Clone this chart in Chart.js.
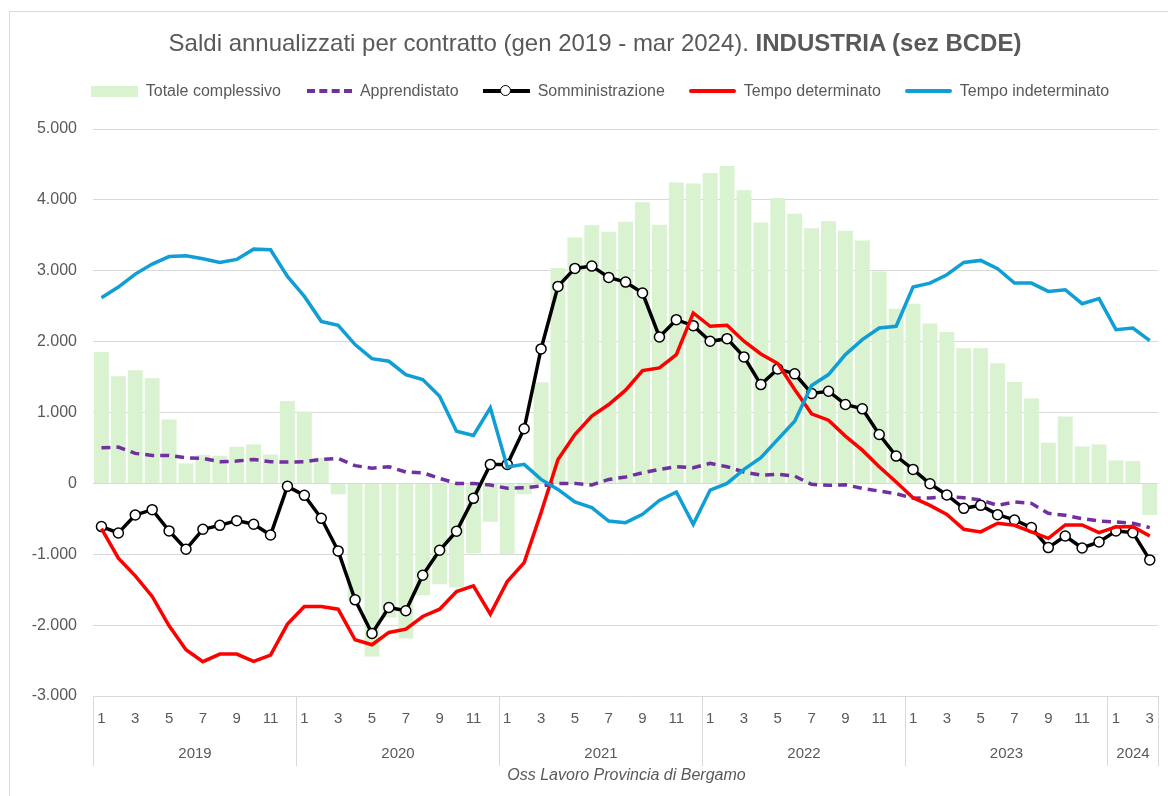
<!DOCTYPE html>
<html>
<head>
<meta charset="utf-8">
<script src="https://cdn.jsdelivr.net/npm/chart.js@4.4.1/dist/chart.umd.min.js"></script>
<style>
  body { margin: 0; background: #fff; }
  #wrap { position: relative; width: 1168px; height: 796px; overflow: hidden; }
  #frame { position: absolute; left: 9px; top: 11px; width: 1200px; height: 900px; border: 1px solid #d9d9d9; box-sizing: border-box; }
  canvas { position: absolute; left: 0; top: 0; }
  .narrow { font-family: "Liberation Sans Narrow", "Arial Narrow", "Liberation Sans", sans-serif; color: #595959; }
  #title { position: absolute; left: 0; top: 29px; width: 1190px; text-align: center; font-size: 24px; white-space: nowrap; }
  #legend { position: absolute; left: 0; top: 81px; width: 1200px; display: flex; justify-content: center; font-size: 16px; white-space: nowrap; }
  .item { display: flex; align-items: center; margin: 0 12px; }
  .sw { width: 47px; height: 20px; margin-right: 8px; position: relative; }
  #caption { position: absolute; left: 93px; width: 1067px; top: 766px; text-align: center; font-size: 16px; font-style: italic; }
</style>
</head>
<body>
<div id="wrap">
  <div id="frame"></div>
  <canvas id="chart" width="1168" height="796"></canvas>
  <div id="title" class="narrow">Saldi annualizzati per contratto (gen 2019 - mar 2024). <b>INDUSTRIA (sez BCDE)</b></div>
  <div id="legend" class="narrow"></div>
  <div id="caption" class="narrow">Oss Lavoro Provincia di Bergamo</div>
</div>
<script>
// asse X: anni e numero di mesi per anno
const years = ['2019', '2020', '2021', '2022', '2023', '2024'];
const monthsPerYear = [12, 12, 12, 12, 12, 3];

const totale = [
  1855, 1512, 1596, 1484, 901, 282, 400, 390, 515, 549, 408, 1164,
  1014, 362, -155, -1650, -2441, -1892, -2188, -1577, -1423, -1469, -986, -540,
  -1000, -155, 1427, 3038, 3469, 3643, 3549, 3690, 3967, 3648, 4244, 4230,
  4380, 4479, 4136, 3681, 4028, 3803, 3601, 3700, 3563, 3427, 2991, 2465,
  2535, 2254, 2136, 1906, 1906, 1695, 1432, 1197, 573, 944, 521, 549,
  324, 315, -446
];
const apprendistato = [
  502, 512, 423, 394, 394, 362, 352, 305, 315, 338, 305, 300,
  305, 338, 350, 250, 215, 235, 160, 150, 70, 0, 0, -23,
  -70, -63, -38, 0, 0, -23, 56, 89, 150, 197, 235, 221,
  282, 235, 160, 117, 127, 103, -14, -28, -20, -70, -108, -146,
  -210, -205, -190, -202, -235, -310, -263, -282, -423, -451, -498, -531,
  -545, -563, -624
];
const somministrazione = [
  -610, -700, -446, -371, -671, -930, -648, -592, -526, -577, -728, -42,
  -169, -493, -953, -1643, -2117, -1751, -1798, -1296, -944, -676, -211, 268,
  268, 770, 1897, 2779, 3033, 3066, 2906, 2840, 2686, 2066, 2310, 2225,
  2005, 2042, 1784, 1394, 1615, 1545, 1268, 1300, 1113, 1052, 690, 385,
  197, -5, -164, -352, -310, -441, -516, -624, -906, -742, -911, -826,
  -671, -695, -1080
];
const tempoDeterminato = [
  -638, -1056, -1305, -1596, -2009, -2347, -2516, -2408, -2408, -2512, -2423, -1986,
  -1737, -1737, -1775, -2207, -2277, -2103, -2056, -1878, -1775, -1526, -1446, -1845,
  -1385, -1117, -413, 338, 690, 948, 1113, 1315, 1592, 1629, 1817, 2404,
  2216, 2230, 2005, 1826, 1690, 1324, 981, 892, 667, 469, 235, 19,
  -202, -310, -437, -648, -685, -563, -592, -685, -775, -587, -587, -695,
  -615, -610, -742
];
const tempoIndeterminato = [
  2620, 2770, 2953, 3094, 3200, 3211, 3169, 3117, 3160, 3305, 3296, 2920,
  2638, 2286, 2230, 1958, 1760, 1723, 1535, 1465, 1230, 737, 676, 1066,
  230, 268, 56, -85, -263, -343, -531, -554, -437, -240, -122, -577,
  -94, 0, 197, 362, 620, 878, 1380, 1535, 1817, 2028, 2192, 2216,
  2770, 2826, 2944, 3117, 3146, 3028, 2826, 2826, 2709, 2732, 2535, 2606,
  2169, 2192, 2014
];

const C = {
  bar: '#D9F2D0', purple: '#7030A0', black: '#000000', red: '#FF0000', blue: '#0F9ED5',
  text: '#595959', grid: '#D9D9D9'
};
const FONT = '"Liberation Sans Narrow", "Arial Narrow", "Liberation Sans", sans-serif';

const labels = [];
years.forEach((y, i) => { for (let m = 1; m <= monthsPerYear[i]; m++) labels.push(String(m)); });

const fmt = v => (v < 0 ? '-' : '') + String(Math.abs(v)).replace(/\B(?=(\d{3})+(?!\d))/g, '.');

// legenda HTML
const legendItems = [
  { label: 'Totale complessivo', sw: `<div style="position:absolute;left:0;top:5px;width:47px;height:11px;background:${C.bar}"></div>` },
  { label: 'Apprendistato', sw: `<div style="position:absolute;left:2px;top:8px;width:45px;border-top:4px dashed ${C.purple}"></div>` },
  { label: 'Somministrazione', sw: `<div style="position:absolute;left:0;top:8px;width:47px;height:4px;background:#000"></div><div style="position:absolute;left:17px;top:4px;width:9px;height:9px;border:1.5px solid #000;border-radius:50%;background:#fff"></div>` },
  { label: 'Tempo determinato', sw: `<div style="position:absolute;left:0;top:8px;width:47px;height:4px;border-radius:2px;background:${C.red}"></div>` },
  { label: 'Tempo indeterminato', sw: `<div style="position:absolute;left:0;top:8px;width:47px;height:4px;border-radius:2px;background:${C.blue}"></div>` }
];
document.getElementById('legend').innerHTML = legendItems.map(it =>
  `<div class="item"><div class="sw">${it.sw}</div><span>${it.label}</span></div>`).join('');

// separatori e etichette degli anni sotto l'asse X
const yearAxisPlugin = {
  id: 'yearAxis',
  afterDraw(chart) {
    const { ctx, chartArea, scales: { x } } = chart;
    const half = (x.getPixelForValue(1) - x.getPixelForValue(0)) / 2;
    const bottom = chartArea.bottom + 70;
    ctx.save();
    ctx.strokeStyle = C.grid;
    ctx.lineWidth = 1;
    ctx.fillStyle = C.text;
    ctx.font = `15px ${FONT}`;
    ctx.textAlign = 'center';
    ctx.textBaseline = 'middle';
    let start = 0;
    years.forEach((y, i) => {
      const end = start + monthsPerYear[i] - 1;
      const x0 = Math.round(x.getPixelForValue(start) - half) + 0.5;
      const x1 = Math.round(x.getPixelForValue(end) + half) + 0.5;
      ctx.beginPath();
      ctx.moveTo(x0, chartArea.bottom); ctx.lineTo(x0, bottom);
      ctx.moveTo(x1, chartArea.bottom); ctx.lineTo(x1, bottom);
      ctx.stroke();
      ctx.fillText(y, (x0 + x1) / 2, chartArea.bottom + 58);
      start = end + 1;
    });
    ctx.restore();
  }
};

new Chart(document.getElementById('chart'), {
  type: 'bar',
  data: {
    labels,
    datasets: [
      { type: 'line', label: 'Tempo indeterminato', data: tempoIndeterminato, borderColor: C.blue, borderWidth: 3.5, pointRadius: 0, tension: 0, order: 1 },
      { type: 'line', label: 'Tempo determinato', data: tempoDeterminato, borderColor: C.red, borderWidth: 3.5, pointRadius: 0, tension: 0, order: 2 },
      { type: 'line', label: 'Somministrazione', data: somministrazione, borderColor: C.black, borderWidth: 3.5, tension: 0, order: 3,
        pointRadius: 5, pointBackgroundColor: '#FFFFFF', pointBorderColor: C.black, pointBorderWidth: 1.5 },
      { type: 'line', label: 'Apprendistato', data: apprendistato, borderColor: C.purple, borderWidth: 3.5, borderDash: [9, 6], pointRadius: 0, tension: 0, order: 4 },
      { type: 'bar', label: 'Totale complessivo', data: totale, backgroundColor: C.bar, barPercentage: 0.88, categoryPercentage: 1.0, order: 5 }
    ]
  },
  options: {
    responsive: false,
    animation: false,
    layout: { padding: { left: 20, right: 8, top: 129, bottom: 0 } },
    plugins: { legend: { display: false }, title: { display: false }, tooltip: { enabled: false } },
    scales: {
      x: {
        grid: { display: false, drawTicks: false },
        border: { display: false },
        afterFit: s => { s.height = 100; },
        ticks: {
          autoSkip: false, maxRotation: 0, padding: 14,
          color: C.text, font: { family: FONT, size: 15 },
          callback: (v, i) => (Number(labels[i]) % 2 === 1 ? labels[i] : '')
        }
      },
      y: {
        min: -3000, max: 5000,
        afterFit: s => { s.width = 73; },
        grid: { color: C.grid, drawTicks: false },
        border: { display: false },
        ticks: { stepSize: 1000, padding: 16, color: C.text, font: { family: FONT, size: 16 }, callback: v => fmt(v) }
      }
    }
  },
  plugins: [yearAxisPlugin]
});
</script>
</body>
</html>
